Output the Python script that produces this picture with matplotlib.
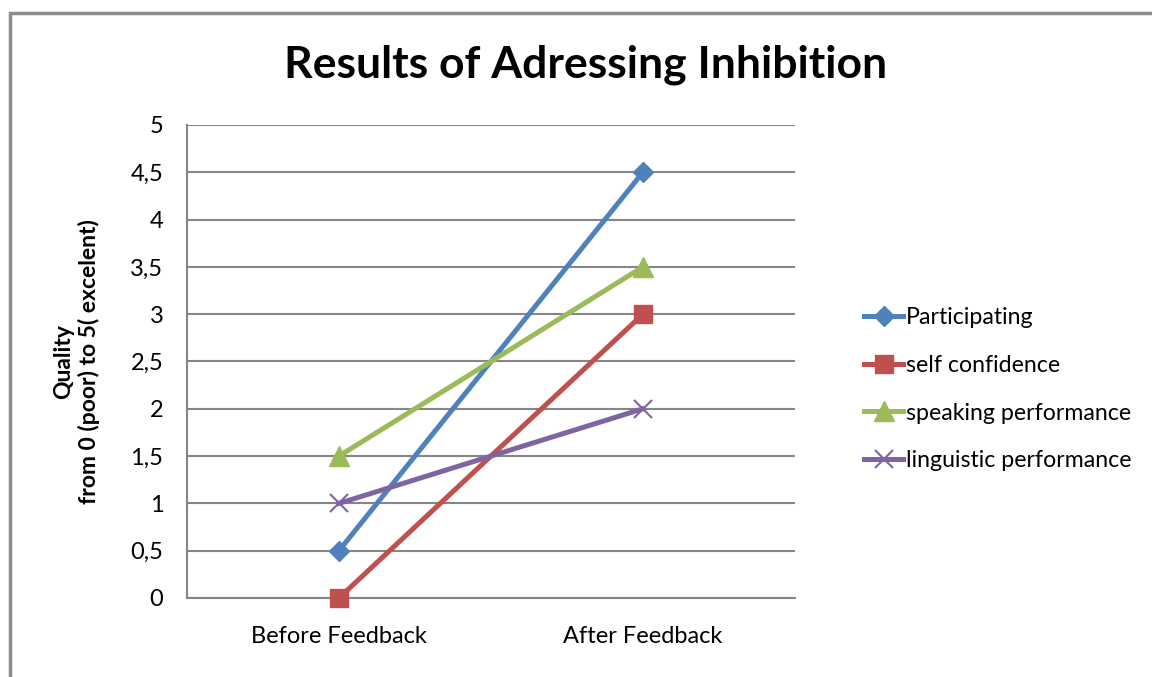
import matplotlib.pyplot as plt
from matplotlib.patches import Rectangle
from matplotlib.ticker import FuncFormatter

plt.rcParams['font.family'] = ['Lato', 'DejaVu Sans']

categories = ["Before Feedback", "After Feedback"]
participating = [0.5, 4.5]
self_confidence = [0, 3]
speaking = [1.5, 3.5]
linguistic = [1, 2]

fig = plt.figure(figsize=(11.52, 6.77), dpi=100)
ax = fig.add_axes([0.1623, 0.1167, 0.5277, 0.6987])

x = range(len(categories))
ax.plot(x, participating, color="#4F81BD", lw=3.6, marker="D", ms=10, label="Participating", zorder=3, clip_on=False)
ax.plot(x, self_confidence, color="#C0504D", lw=3.6, marker="s", ms=13, label="self confidence", zorder=3, clip_on=False)
ax.plot(x, speaking, color="#9BBB59", lw=3.6, marker="^", ms=14, label="speaking performance", zorder=3, clip_on=False)
ax.plot(x, linguistic, color="#8064A2", lw=3.6, marker="x", ms=13, mew=1.5, label="linguistic performance", zorder=3, clip_on=False)

ax.set_xlim(-0.5, 1.5)
ax.set_ylim(0, 5)
ax.set_yticks([i * 0.5 for i in range(11)])
ax.yaxis.set_major_formatter(FuncFormatter(lambda v, p: ("%g" % v).replace(".", ",")))
ax.set_xticks(list(x))
ax.set_xticklabels(categories)
ax.tick_params(length=0, labelsize=17)
ax.tick_params(axis="y", pad=17)
ax.tick_params(axis="x", pad=20)
ax.grid(axis="y", color="#868686", lw=1.5)
ax.set_axisbelow(True)
for s in ["top", "right"]:
    ax.spines[s].set_visible(False)
for s in ["left", "bottom"]:
    ax.spines[s].set_color("#868686")
    ax.spines[s].set_linewidth(1.5)

ax.set_ylabel("Quality\nfrom 0 (poor) to 5( excelent)", fontsize=16.5, fontweight="bold", labelpad=22)
fig.text(0.508, 0.905, "Results of Adressing Inhibition", fontsize=32, fontweight="bold", ha="center", va="center")

fig.legend(loc="center left", bbox_to_anchor=(0.742, 0.425), frameon=False, fontsize=16.7,
           handlelength=1.7, handletextpad=0.1, labelspacing=1.15, borderaxespad=0)

fig.patches.append(Rectangle((10 / 1152, -0.1), 1.2, 1 - 13 / 677 + 0.1, transform=fig.transFigure,
                             fill=False, edgecolor="#8C8C8C", lw=2.5, clip_on=False))

fig.savefig("out.png", dpi=100)
